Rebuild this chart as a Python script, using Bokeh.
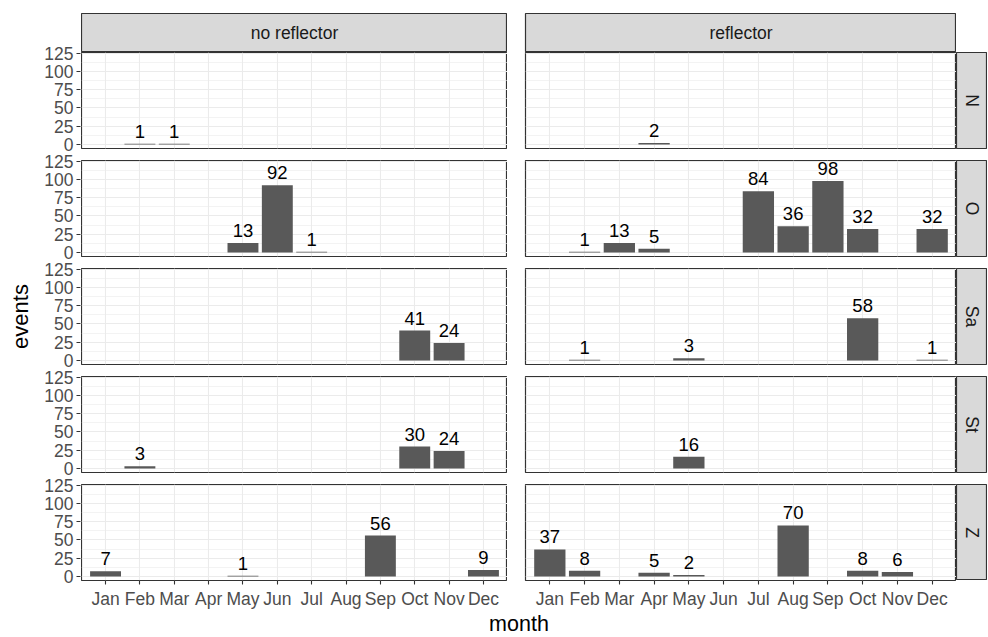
import math
from bokeh.plotting import figure
from bokeh.models import (FactorRange, Range1d, FixedTicker, Label, LabelSet,
                          ColumnDataSource, CustomJSTickFormatter)
from bokeh.layouts import row, column
from bokeh.core.properties import value
from bokeh.embed import file_html
from bokeh.resources import INLINE

# ---------------- data ----------------
months = ["Jan", "Feb", "Mar", "Apr", "May", "Jun",
          "Jul", "Aug", "Sep", "Oct", "Nov", "Dec"]
conditions = ["no reflector", "reflector"]
species = ["N", "O", "Sa", "St", "Z"]
y_ticks = [0, 25, 50, 75, 100, 125]
y_minor = [12.5, 37.5, 62.5, 87.5, 112.5]

#              Jan   Feb   Mar   Apr   May   Jun   Jul   Aug   Sep   Oct   Nov   Dec
no_refl_N  = [None, 1,    1,    None, None, None, None, None, None, None, None, None]
no_refl_O  = [None, None, None, None, 13,   92,   1,    None, None, None, None, None]
no_refl_Sa = [None, None, None, None, None, None, None, None, None, 41,   24,   None]
no_refl_St = [None, 3,    None, None, None, None, None, None, None, 30,   24,   None]
no_refl_Z  = [7,    None, None, None, 1,    None, None, None, 56,   None, None, 9]

refl_N  = [None, None, None, 2,    None, None, None, None, None, None, None, None]
refl_O  = [None, 1,    13,   5,    None, None, 84,   36,   98,   32,   None, 32]
refl_Sa = [None, 1,    None, None, 3,    None, None, None, None, 58,   None, 1]
refl_St = [None, None, None, None, 16,   None, None, None, None, None, None, None]
refl_Z  = [37,   8,    None, 5,    2,    None, None, 70,   None, 8,    6,    None]

facet_values = {
    ("no reflector", "N"): no_refl_N, ("no reflector", "O"): no_refl_O,
    ("no reflector", "Sa"): no_refl_Sa, ("no reflector", "St"): no_refl_St,
    ("no reflector", "Z"): no_refl_Z,
    ("reflector", "N"): refl_N, ("reflector", "O"): refl_O,
    ("reflector", "Sa"): refl_Sa, ("reflector", "St"): refl_St,
    ("reflector", "Z"): refl_Z,
}

# ---------------- style ----------------
FONT = "Liberation Sans"
BAR = "#595959"
DARK = "#333333"
GRID = "#EBEBEB"
STRIP = "#D9D9D9"
TICKTXT = "#4D4D4D"
FW = [426, 431]          # frame widths of the two columns
FH = 96                  # frame height of a panel
GAP = 12                 # vertical gap between panels
GAP_TOP = 5              # part of the gap that belongs to the lower panel
AXIS_W = 40              # room for y tick labels
COL_GAP = 18
STRIP_W = 31
STRIP_H = 39
TOP_PAD = 13
EV_W = 40
Y_LO, Y_HI = -5.5, 126
N_ROWS = len(species)
SPAN = N_ROWS * FH + (N_ROWS - 1) * GAP


def base_fig(**kw):
    p = figure(output_backend="svg", toolbar_location=None, **kw)
    p.background_fill_color = "white"
    p.border_fill_color = "white"
    p.outline_line_color = DARK
    p.outline_line_width = 1.2
    return p


def style_axis(ax):
    ax.axis_line_color = None
    ax.major_tick_line_color = DARK
    ax.major_tick_line_width = 1.1
    ax.major_tick_in = 0
    ax.major_tick_out = 4
    ax.minor_tick_line_color = None
    ax.major_label_text_font = FONT
    ax.major_label_text_font_size = "17.5px"
    ax.major_label_text_color = TICKTXT
    ax.major_label_standoff = 3


def panel(ci, ri):
    cond = conditions[ci]
    sp = species[ri]
    first = ri == 0
    last = ri == N_ROWS - 1
    p = base_fig(
        x_range=FactorRange(*months, range_padding=0.2, range_padding_units="absolute"),
        y_range=Range1d(Y_LO, Y_HI),
        frame_width=FW[ci], frame_height=FH,
        min_border_left=0 if ci == 0 else COL_GAP,
        min_border_right=0,
        min_border_top=0 if first else GAP_TOP,
        min_border_bottom=0 if last else GAP - GAP_TOP,
    )
    p.yaxis.ticker = FixedTicker(ticks=y_ticks, minor_ticks=y_minor)
    p.ygrid.ticker = FixedTicker(ticks=y_ticks, minor_ticks=y_minor)
    p.ygrid.grid_line_color = GRID
    p.ygrid.grid_line_width = 1.1
    p.ygrid.minor_grid_line_color = GRID
    p.ygrid.minor_grid_line_width = 0.6
    p.xgrid.grid_line_color = GRID
    p.xgrid.grid_line_width = 1.1
    style_axis(p.xaxis[0])
    style_axis(p.yaxis[0])
    p.xaxis.major_label_standoff = 4
    p.xaxis.visible = last
    p.yaxis.visible = False

    vals = facet_values[(cond, sp)]
    m = [mo for mo, v in zip(months, vals) if v is not None]
    e = [v for v in vals if v is not None]
    src = ColumnDataSource(dict(month=m, events=e, label=[str(v) for v in e]))
    p.vbar(x="month", top="events", width=0.9, source=src,
           fill_color=BAR, line_color=None)
    p.add_layout(LabelSet(x="month", y="events", text="label", source=src,
                          text_align="center", text_baseline="bottom",
                          y_offset=6, text_font=value(FONT),
                          text_font_size=value("18.5px"),
                          text_color=value("black")))
    return p


def y_axis_column():
    # one tall canvas carrying the tick labels of all five panel rows
    px_per_unit = FH / (Y_HI - Y_LO)
    pairs = []
    for k in range(N_ROWS):
        row_base = (N_ROWS - 1 - k) * (FH + GAP)
        for t in y_ticks:
            pairs.append((row_base + (t - Y_LO) * px_per_unit, str(t)))
    pairs.sort()
    pos = [p_ for p_, _ in pairs]
    labs = [l_ for _, l_ in pairs]
    a = base_fig(x_range=Range1d(0, 1), y_range=Range1d(0, SPAN),
                 frame_width=1, frame_height=SPAN, x_axis_location=None,
                 min_border_left=AXIS_W, min_border_right=0,
                 min_border_top=TOP_PAD + STRIP_H, min_border_bottom=12)
    a.outline_line_color = None
    a.grid.visible = False
    a.yaxis.ticker = FixedTicker(ticks=pos)
    a.yaxis.formatter = CustomJSTickFormatter(
        args=dict(pos=pos, labs=labs),
        code="""
        let best = 0;
        for (let i = 0; i < pos.length; i++) {
            if (Math.abs(pos[i] - tick) < Math.abs(pos[best] - tick)) best = i;
        }
        return labs[best];
        """)
    style_axis(a.yaxis[0])
    return a


def strip(text, w, h, angle=0.0, **kw):
    s = base_fig(x_range=Range1d(0, 1), y_range=Range1d(0, 1),
                 frame_width=w, frame_height=h,
                 x_axis_location=None, y_axis_location=None, **kw)
    s.grid.visible = False
    s.background_fill_color = STRIP
    s.add_layout(Label(x=0.5, y=0.5, text=text, angle=angle,
                       text_align="center", text_baseline="middle",
                       text_font=FONT, text_font_size="17.5px",
                       text_color="#1A1A1A"))
    return s


def plain(w, h, **kw):
    f = base_fig(x_range=Range1d(0, 1), y_range=Range1d(0, 1),
                 frame_width=w, frame_height=h,
                 x_axis_location=None, y_axis_location=None, **kw)
    f.grid.visible = False
    f.outline_line_color = None
    return f


top_row = row(
    strip(conditions[0], FW[0], STRIP_H, min_border_left=0,
          min_border_right=0, min_border_top=TOP_PAD, min_border_bottom=0),
    strip(conditions[1], FW[1], STRIP_H, min_border_left=COL_GAP,
          min_border_right=0, min_border_top=TOP_PAD, min_border_bottom=0),
)

panel_rows = []
for ri, sp in enumerate(species):
    first = ri == 0
    last = ri == N_ROWS - 1
    panel_rows.append(row(
        panel(0, ri), panel(1, ri),
        strip(sp, STRIP_W, FH, angle=-math.pi / 2, min_border_left=0,
              min_border_right=0,
              min_border_top=0 if first else GAP_TOP,
              min_border_bottom=0 if last else GAP - GAP_TOP),
    ))

month_fig = plain(FW[0] + COL_GAP + FW[1], 24, min_border_left=0,
                  min_border_right=0, min_border_top=0, min_border_bottom=0)
month_fig.add_layout(Label(x=0.5, y=0.5, text="month", text_align="center",
                           text_baseline="middle", text_font=FONT,
                           text_font_size="21.5px", text_color="black"))

events_fig = plain(EV_W, SPAN, min_border_left=0, min_border_right=0,
                   min_border_top=TOP_PAD + STRIP_H, min_border_bottom=0)
events_fig.add_layout(Label(x=0.5, y=0.5, text="events", angle=math.pi / 2,
                            text_align="center", text_baseline="middle",
                            text_font=FONT, text_font_size="22px",
                            text_color="black"))

layout = row(events_fig, y_axis_column(),
             column(top_row, *panel_rows, month_fig))

with open("out.html", "w") as f:
    f.write(file_html(layout, INLINE))
